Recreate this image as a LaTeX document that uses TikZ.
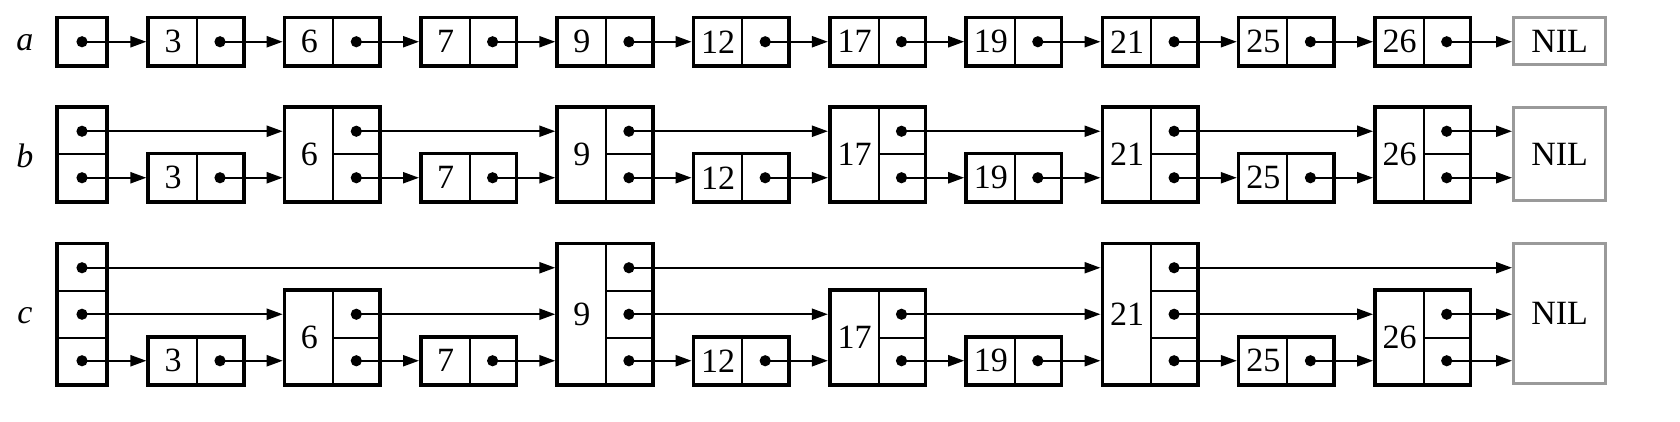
\documentclass[tikz,border=0pt]{standalone}
\usepackage{fontspec}
\setmainfont{Liberation Serif}
\definecolor{nilgray}{HTML}{9A9A9A}
\usetikzlibrary{arrows.meta,fit}

\begin{document}
\begin{tikzpicture}[
  x=1pt,y=-1pt,
  font=\fontsize{17}{20}\selectfont,
  keycell/.style={draw,line width=1pt,anchor=south west,inner sep=0pt,minimum width=24pt,minimum height=#1},
  ptrcell/.style={draw,line width=1pt,anchor=south west,inner sep=0pt,minimum width=#1,minimum height=23.25pt,
    path picture={\fill (path picture bounding box.center) circle (2.8pt);}},
  frame/.style={draw,line width=1.6pt,inner sep=0pt},
  nilbox/.style={draw=nilgray,line width=1.6pt,anchor=south west,inner sep=0pt,minimum width=46pt,minimum height=#1},
  rowlabel/.style={font=\fontsize{17}{20}\selectfont\itshape},
  link/.style={-{Triangle[length=8pt,width=5.5pt]},line width=1.1pt}
]
\useasboundingbox (0,0) rectangle (840,211);
% heads, NIL ends and row labels
\foreach \rw/\yb/\h in {a/33/1,b/101/2,c/192.5/3}{
  \foreach \lv in {1,...,\h}
    \node[ptrcell=24pt] (\rw hp\lv) at (28.5,{\yb-(\lv-1)*23.25}) {};
  \node[frame,fit=(\rw hp1)(\rw hp\h)] (\rw h) {};
  \node[nilbox=\h*23.25pt] (\rw nil) at (756,\yb) {NIL};
  \node[rowlabel] (\rw lab) at (12.5,{\yb-\h*23.25/2}) {\rw};
}
% elements: key / level in row a / b / c
\foreach \val/\ha/\hb/\hc [count=\i] in {3/1/1/1,6/1/2/2,7/1/1/1,9/1/2/3,12/1/1/1,17/1/2/2,19/1/1/1,21/1/2/3,25/1/1/1,26/1/2/2}{
  \foreach \rw/\yb/\h in {a/33/\ha,b/101/\hb,c/192.5/\hc}{
    \node[keycell=\h*23.25pt] (\rw\val key) at ({74+(\i-1)*68.15},\yb) {\val};
    \foreach \lv in {1,...,\h}
      \node[ptrcell=23pt] (\rw\val p\lv) at ({98+(\i-1)*68.15},{\yb-(\lv-1)*23.25}) {};
    \node[frame,fit=(\rw\val key)(\rw\val p\h)] (\rw\val) {};
  }
}
% level 1 links
\foreach \rw in {a,b,c}
  \foreach \s/\t in {h/3,3/6,6/7,7/9,9/12,12/17,17/19,19/21,21/25,25/26,26/nil}
    \draw[link] (\rw\s p1.center) -- (\rw\s p1.center -| \rw\t.west);
% level 2 links
\foreach \rw in {b,c}
  \foreach \s/\t in {h/6,6/9,9/17,17/21,21/26,26/nil}
    \draw[link] (\rw\s p2.center) -- (\rw\s p2.center -| \rw\t.west);
% level 3 links
\foreach \s/\t in {h/9,9/21,21/nil}
  \draw[link] (c\s p3.center) -- (c\s p3.center -| c\t.west);
\end{tikzpicture}
\end{document}
